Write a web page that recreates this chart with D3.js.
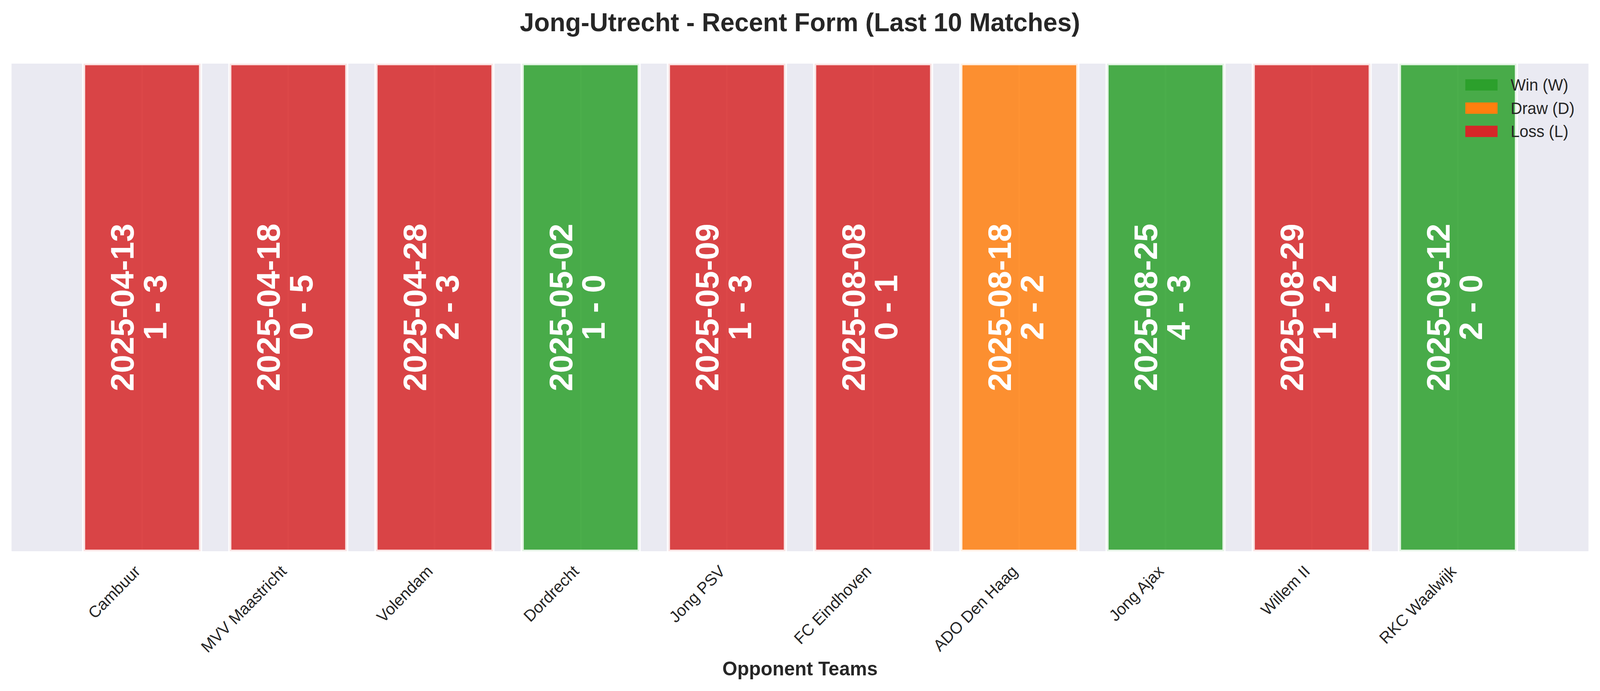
<!DOCTYPE html>
<html>
<head>
<meta charset="utf-8">
<script src="https://cdn.jsdelivr.net/npm/d3@7"></script>
<style>
  html, body { margin: 0; padding: 0; background: #fff; overflow: hidden; }
  svg { display: block; }
  text { font-family: "Liberation Sans", Arial, sans-serif; }
</style>
</head>
<body>
<svg id="chart"></svg>
<script>
// match data, oldest first
const opponents = ["Cambuur", "MVV Maastricht", "Volendam", "Dordrecht", "Jong PSV",
                   "FC Eindhoven", "ADO Den Haag", "Jong Ajax", "Willem II", "RKC Waalwijk"];
const dates = ["2025-04-13", "2025-04-18", "2025-04-28", "2025-05-02", "2025-05-09",
               "2025-08-08", "2025-08-18", "2025-08-25", "2025-08-29", "2025-09-12"];
const scores = ["1 - 3", "0 - 5", "2 - 3", "1 - 0", "1 - 3", "0 - 1", "2 - 2", "4 - 3", "1 - 2", "2 - 0"];
const results = ["L", "L", "L", "W", "L", "L", "D", "W", "L", "W"];

const legendKeys = ["W", "D", "L"];
const legendLabels = ["Win (W)", "Draw (D)", "Loss (L)"];
const resultColor = { W: "#2ca02c", D: "#ff7f0e", L: "#d62728" };

const W = 4170, H = 1770;
const plot = { left: 30, right: 4140, top: 163, bottom: 1412 };

// drawing space is 4170x1770; fit it to whatever the window really is
const svg = d3.select("#chart")
  .attr("width", window.innerWidth || W)
  .attr("height", window.innerHeight || H)
  .attr("viewBox", `0 0 ${W} ${H}`)
  .attr("preserveAspectRatio", "none");
svg.append("rect").attr("width", W).attr("height", H).attr("fill", "#fff");

const matches = opponents.map((o, i) => ({
  i: i, opponent: o, date: dates[i], score: scores[i], result: results[i]
}));

// bar centres at 0..9, matplotlib style margins
const x = d3.scaleLinear().domain([-0.893, 9.893]).range([plot.left, plot.right]);
const y = d3.scaleLinear().domain([0, 1]).range([plot.bottom, plot.top]);
const barW = 0.8;

svg.append("defs").append("clipPath").attr("id", "clip")
  .append("rect")
  .attr("x", plot.left).attr("y", plot.top)
  .attr("width", plot.right - plot.left).attr("height", plot.bottom - plot.top);

// background
svg.append("rect")
  .attr("x", plot.left).attr("y", plot.top)
  .attr("width", plot.right - plot.left).attr("height", plot.bottom - plot.top)
  .attr("fill", "#eaeaf2");

const g = svg.append("g").attr("clip-path", "url(#clip)");

// vertical grid lines
g.selectAll("line.grid")
  .data(matches).enter()
  .append("line")
  .attr("class", "grid")
  .attr("x1", d => x(d.i)).attr("x2", d => x(d.i))
  .attr("y1", y(0)).attr("y2", y(1))
  .attr("stroke", "#fff")
  .attr("stroke-width", 4);

// bars
g.selectAll("rect.bar")
  .data(matches).enter()
  .append("rect")
  .attr("class", "bar")
  .attr("x", d => x(d.i - barW / 2))
  .attr("width", d => x(d.i + barW / 2) - x(d.i - barW / 2))
  .attr("y", y(1))
  .attr("height", y(0) - y(1))
  .attr("fill", d => resultColor[d.result])
  .attr("fill-opacity", 0.85)
  .attr("stroke", "#fff")
  .attr("stroke-opacity", 0.85)
  .attr("stroke-width", 8.3);

// date + score inside bars
const labels = svg.selectAll("text.inbar")
  .data(matches).enter()
  .append("text")
  .attr("class", "inbar")
  .attr("transform", d => `translate(${x(d.i)},${y(0.5)}) rotate(-90)`)
  .attr("text-anchor", "middle")
  .attr("fill", "#fff")
  .attr("font-weight", "bold")
  .attr("font-size", 84);
labels.append("tspan").attr("x", 0).attr("y", -22).text(d => d.date);
labels.append("tspan").attr("x", 0).attr("y", 63).text(d => d.score);

// x tick labels
svg.selectAll("text.tick")
  .data(matches).enter()
  .append("text")
  .attr("class", "tick")
  .attr("transform", d => `translate(${x(d.i) - 2},1466) rotate(-45)`)
  .attr("text-anchor", "end")
  .attr("fill", "#262626")
  .attr("font-size", 41.7)
  .text(d => d.opponent);

// axis label and title
svg.append("text")
  .attr("x", (plot.left + plot.right) / 2).attr("y", 1730)
  .attr("text-anchor", "middle")
  .attr("fill", "#262626")
  .attr("font-weight", "bold")
  .attr("font-size", 50)
  .text("Opponent Teams");

svg.append("text")
  .attr("x", (plot.left + plot.right) / 2).attr("y", 80)
  .attr("text-anchor", "middle")
  .attr("fill", "#262626")
  .attr("font-weight", "bold")
  .attr("font-size", 66.7)
  .text("Jong-Utrecht - Recent Form (Last 10 Matches)");

// legend
const legend = svg.append("g").attr("transform", "translate(3819,203)");
const rows = legend.selectAll("g")
  .data(legendKeys).enter()
  .append("g")
  .attr("transform", (d, i) => `translate(0,${i * 59.5})`);
rows.append("rect")
  .attr("width", 84).attr("height", 29)
  .attr("fill", d => resultColor[d]);
rows.append("text")
  .attr("x", 118).attr("y", 29)
  .attr("fill", "#262626")
  .attr("font-size", 41.7)
  .text((d, i) => legendLabels[i]);
</script>
</body>
</html>
